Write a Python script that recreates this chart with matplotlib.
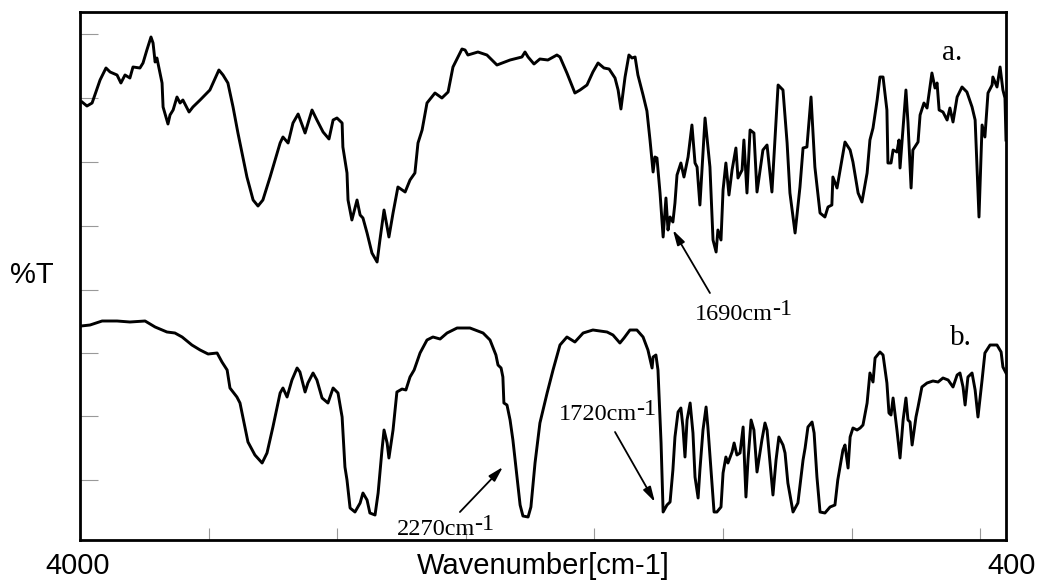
import matplotlib
matplotlib.use("Agg")
import matplotlib.pyplot as plt

# Spectrum a (wavenumber cm-1, transmittance in arbitrary units)
wn_a = [3992, 3973, 3953, 3922, 3899, 3883, 3856, 3841, 3825, 3806, 3794, 3767, 3755, 3740, 3724, 3716,
        3708, 3701, 3681, 3677, 3658, 3650, 3638, 3623, 3611, 3600, 3576, 3561, 3533, 3495, 3460, 3444,
        3425, 3405, 3386, 3351, 3327, 3308, 3289, 3261, 3222, 3211, 3191, 3172, 3152, 3125, 3098, 3079,
        3055, 3032, 3016, 3001, 2981, 2978, 2962, 2958, 2943, 2923, 2911, 2900, 2884, 2865, 2845, 2834,
        2818, 2799, 2783, 2764, 2736, 2717, 2698, 2686, 2670, 2651, 2620, 2593, 2569, 2550, 2515, 2503,
        2492, 2453, 2418, 2379, 2328, 2282, 2270, 2258, 2235, 2212, 2181, 2146, 2134, 2107, 2076, 2056,
        2029, 2006, 1986, 1963, 1943, 1920, 1908, 1897, 1881, 1866, 1854, 1842, 1831, 1811, 1796, 1784,
        1772, 1765, 1757, 1745, 1733, 1722, 1714, 1706, 1695, 1687, 1679, 1664, 1652, 1636, 1621, 1609,
        1601, 1590, 1570, 1551, 1539, 1527, 1520, 1508, 1500, 1489, 1477, 1465, 1450, 1442, 1426, 1419,
        1407, 1395, 1380, 1368, 1345, 1329, 1310, 1286, 1267, 1251, 1240, 1220, 1201, 1189, 1174, 1158,
        1143, 1123, 1104, 1092, 1077, 1073, 1057, 1026, 1006, 995, 975, 960, 940, 929, 917, 901,
        890, 878, 863, 859, 847, 839, 824, 816, 812, 800, 789, 781, 769, 762, 742, 734,
        719, 707, 688, 676, 668, 660, 645, 629, 618, 606, 590, 571, 552, 532, 520, 505,
        493, 482, 470, 454, 451, 435, 423, 412, 404, 400]
t_a = [438, 434, 437, 460, 472, 468, 465, 457, 465, 462, 473, 472, 477, 490, 503, 497,
       478, 482, 457, 433, 416, 425, 430, 443, 437, 440, 428, 433, 440, 450, 470, 465,
       457, 433, 407, 363, 340, 334, 340, 363, 397, 403, 397, 417, 426, 407, 430, 420,
       408, 401, 420, 422, 417, 393, 367, 340, 320, 340, 325, 322, 307, 287, 278, 300,
       330, 303, 327, 353, 348, 360, 367, 397, 410, 437, 447, 442, 448, 473, 491, 490,
       485, 488, 485, 475, 480, 483, 488, 483, 476, 481, 480, 485, 483, 467, 447, 450,
       455, 468, 477, 472, 471, 462, 450, 431, 463, 485, 482, 483, 465, 445, 429, 400,
       368, 383, 382, 347, 303, 342, 310, 323, 318, 337, 365, 377, 363, 383, 415, 377,
       373, 335, 422, 373, 300, 288, 310, 300, 350, 377, 345, 370, 392, 362, 370, 400,
       347, 410, 407, 348, 390, 395, 348, 455, 450, 397, 347, 307, 353, 392, 393, 443,
       373, 327, 323, 333, 335, 363, 352, 398, 390, 378, 347, 338, 367, 400, 412, 440,
       463, 463, 430, 377, 377, 390, 388, 400, 372, 413, 450, 417, 352, 390, 398, 425,
       437, 432, 467, 452, 457, 430, 428, 420, 432, 418, 443, 453, 448, 433, 420, 323,
       415, 403, 447, 455, 463, 453, 473, 450, 442, 400]

# Spectrum b
wn_b = [3996, 3961, 3914, 3856, 3806, 3747, 3708, 3662, 3631, 3603, 3565, 3533, 3502, 3467, 3448, 3428,
        3417, 3390, 3378, 3347, 3320, 3292, 3273, 3250, 3222, 3211, 3195, 3176, 3156, 3145, 3125, 3114,
        3094, 3079, 3059, 3036, 3016, 2997, 2981, 2970, 2962, 2950, 2931, 2911, 2900, 2884, 2873, 2853,
        2841, 2826, 2818, 2806, 2799, 2783, 2768, 2748, 2733, 2717, 2701, 2678, 2651, 2628, 2600, 2573,
        2534, 2484, 2433, 2406, 2383, 2375, 2363, 2356, 2352, 2340, 2328, 2317, 2301, 2289, 2278, 2258,
        2247, 2231, 2212, 2184, 2161, 2134, 2107, 2076, 2044, 2006, 1951, 1928, 1901, 1885, 1862, 1835,
        1811, 1792, 1776, 1772, 1761, 1753, 1741, 1733, 1718, 1706, 1695, 1687, 1675, 1664, 1656, 1648,
        1640, 1628, 1617, 1609, 1597, 1590, 1578, 1566, 1559, 1547, 1535, 1524, 1508, 1500, 1489, 1481,
        1465, 1457, 1446, 1434, 1422, 1411, 1403, 1391, 1380, 1368, 1349, 1337, 1329, 1306, 1294, 1283,
        1267, 1259, 1248, 1228, 1209, 1189, 1181, 1170, 1154, 1146, 1135, 1123, 1104, 1084, 1065, 1054,
        1034, 1026, 1014, 1006, 995, 979, 967, 956, 940, 929, 917, 909, 890, 878, 863, 855,
        847, 839, 824, 812, 800, 789, 781, 773, 765, 750, 742, 727, 707, 684, 664, 645,
        625, 606, 590, 579, 567, 559, 548, 532, 520, 509, 493, 482, 462, 435, 419, 412, 400]
t_b = [214, 215, 219, 219, 218, 219, 213, 208, 207, 203, 195, 190, 186, 187, 178, 170,
       152, 143, 137, 98, 85, 77, 87, 113, 147, 152, 143, 160, 172, 168, 148, 157,
       167, 160, 142, 137, 152, 147, 123, 73, 60, 32, 28, 37, 47, 40, 27, 25,
       47, 90, 110, 97, 82, 110, 148, 151, 150, 163, 170, 187, 200, 203, 201, 207,
       212, 212, 207, 200, 185, 175, 172, 163, 137, 135, 120, 100, 63, 35, 24, 23,
       33, 77, 117, 147, 170, 195, 203, 198, 207, 210, 208, 205, 197, 202, 210, 210,
       203, 190, 172, 183, 185, 170, 97, 28, 35, 38, 70, 103, 128, 132, 113, 83,
       120, 137, 107, 63, 42, 70, 110, 133, 113, 70, 28, 28, 33, 67, 83, 77,
       88, 97, 85, 87, 113, 43, 80, 120, 110, 68, 100, 117, 110, 45, 80, 103,
       95, 87, 57, 28, 37, 80, 92, 113, 118, 107, 63, 28, 27, 33, 35, 60,
       90, 95, 72, 103, 112, 110, 112, 115, 137, 167, 158, 182, 188, 185, 157, 127,
       125, 142, 110, 82, 120, 142, 120, 118, 95, 123, 133, 153, 157, 159, 158, 162,
       160, 153, 165, 167, 153, 135, 163, 167, 150, 123, 160, 187, 195, 195, 188, 173, 167]

x_ticks = [3500, 3000, 2500, 2000, 1500, 1000, 500]
y_ticks = [60, 124, 187, 250, 314, 378, 442, 506]

peak_labels = ['1690cm', '1720cm', '2270cm']
peak_label_pos = [(1609, 220), (2138, 120), (2768, 5)]
arrow_heads = [(1695, 310), (1765, 38), (2356, 73)]
arrow_tails = [(1551, 247), (1920, 108), (2523, 28)]

fig = plt.figure(figsize=(10.4, 5.86), dpi=100)
ax = fig.add_axes([80 / 1040, 46 / 586, 926 / 1040, 528 / 586])

ax.plot(wn_a, t_a, color='black', lw=2.1, solid_joinstyle='round')
ax.plot(wn_b, t_b, color='black', lw=2.1, solid_joinstyle='round')

ax.set_xlim(4000, 400)
ax.set_ylim(0, 528)
ax.set_xticks(x_ticks)
ax.set_yticks(y_ticks)
ax.tick_params(axis='x', direction='in', length=9, width=0.8, color='#999999',
               labelbottom=False)
ax.tick_params(axis='y', direction='in', length=13, width=0.8, color='#999999',
               labelleft=False)
for s in ax.spines.values():
    s.set_linewidth(2.0)
    s.set_color('black')

sans = 'Liberation Sans'
serif = 'Liberation Serif'
fig.text(32 / 1040, 1 - 275 / 586, '%T', fontsize=21, family=sans, ha='center', va='center')
fig.text(78 / 1040, 1 - 566 / 586, '4000', fontsize=21, family=sans, ha='center', va='center')
fig.text(1012 / 1040, 1 - 566 / 586, '400', fontsize=21, family=sans, ha='center', va='center')
fig.text(543 / 1040, 1 - 566 / 586, 'Wavenumber[cm-1]', fontsize=21, family=sans,
         ha='center', va='center')

ax.text(649, 480, 'a.', fontsize=21, family=serif, ha='left', va='baseline')
ax.text(618, 195, 'b.', fontsize=21, family=serif, ha='left', va='baseline')

arrow = dict(arrowstyle='-|>,head_length=0.9,head_width=0.25', color='black', lw=1.3,
             shrinkA=0, shrinkB=0)
for head, tail in zip(arrow_heads, arrow_tails):
    ax.annotate('', xy=head, xytext=tail, arrowprops=arrow)

for lab, pos in zip(peak_labels, peak_label_pos):
    t = ax.text(pos[0], pos[1], lab, fontsize=17.5, family=serif, ha='left', va='baseline')
    ax.annotate('-1', xy=(1, 0), xycoords=t, xytext=(-1.0, 3.5), textcoords='offset points',
                fontsize=17.5, family=serif, ha='left', va='bottom')

fig.savefig('out.png', dpi=100)
